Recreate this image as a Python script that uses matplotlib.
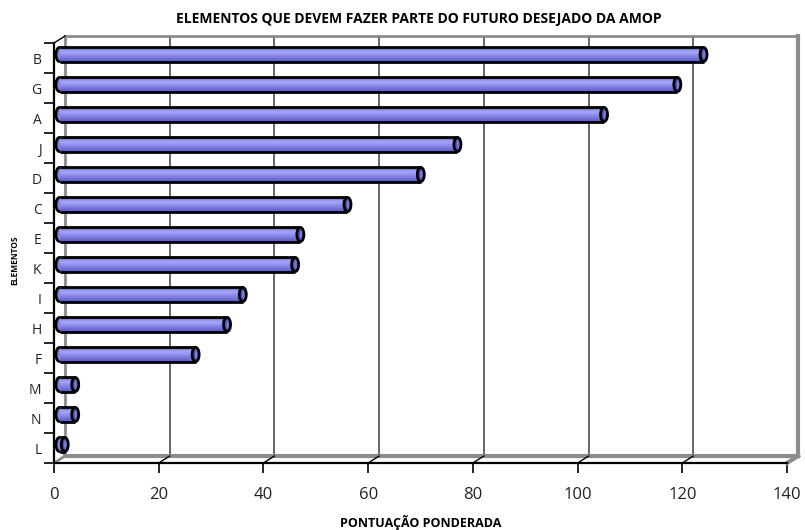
import matplotlib
matplotlib.use("Agg")
import matplotlib.pyplot as plt
from matplotlib.patches import Ellipse
from matplotlib.colors import LinearSegmentedColormap

plt.rcParams['font.family'] = ['Open Sans', 'DejaVu Sans']

categories = ["B", "G", "A", "J", "D", "C", "E", "K", "I", "H", "F", "M", "N", "L"]
scores = [123, 118, 104, 76, 69, 55, 46, 45, 35, 32, 26, 3, 3, 1]
x_ticks = [0, 20, 40, 60, 80, 100, 120, 140]

TITLE = "ELEMENTOS QUE DEVEM FAZER PARTE DO FUTURO DESEJADO DA AMOP"
XLABEL = "PONTUAÇÃO PONDERADA"
YLABEL = "ELEMENTOS"

W, H = 805, 530
PPU = 5.236          # pixels per score unit
ROW = 30             # pixels per category row
DX, DY = 5.5, 3.5    # half depth of the fake 3d box, pixels
n = len(categories)
XMAX = 140

fig = plt.figure(figsize=(W / 100, H / 100), dpi=100)


def add_ax(left, top):
    return fig.add_axes([left / W, 1 - (top + n * ROW) / H, XMAX * PPU / W, n * ROW / H])


def setup(ax):
    ax.set_xlim(0, XMAX)
    ax.set_ylim(n - 0.5, -0.5)


# back wall
ax_b = add_ax(59.5 + DX, 39.5 - DY)
setup(ax_b)
ax_b.set_facecolor("white")
ax_b.set_xticks(x_ticks)
ax_b.set_yticks([])
ax_b.tick_params(axis="x", length=0, labelbottom=False)
ax_b.grid(axis="x", color="#5a5a5a", lw=1.3)
for s in ("top", "left"):
    ax_b.spines[s].set_color("#8c8c8c")
    ax_b.spines[s].set_linewidth(2)
for s in ("right", "bottom"):
    ax_b.spines[s].set_color("#8c8c8c")
    ax_b.spines[s].set_linewidth(3)

# front axis plane
ax_f = add_ax(59.5 - DX, 39.5 + DY)
setup(ax_f)
ax_f.patch.set_alpha(0)
for s in ("top", "right"):
    ax_f.spines[s].set_visible(False)
for s in ("left", "bottom"):
    ax_f.spines[s].set_color("black")
    ax_f.spines[s].set_linewidth(1.6)
ax_f.set_xticks(x_ticks)
ax_f.set_xticklabels([str(t) for t in x_ticks], fontsize=12, color="#222222")
ax_f.tick_params(axis="x", direction="out", length=7, width=1.2, pad=10)
ax_f.set_yticks(range(n))
ax_f.set_yticklabels(categories, fontsize=10, color="#222222")
ax_f.set_yticks([i - 0.5 for i in range(n + 1)], minor=True)
ax_f.tick_params(axis="y", which="major", length=0, pad=9)
ax_f.tick_params(axis="y", which="minor", direction="out", length=7, width=1.2)

# floor / side wall edges, drawn from front axis to back wall
ddx = 2 * DX / PPU
ddy = 2 * DY / ROW
for t in x_ticks:
    ax_f.plot([t, t + ddx], [n - 0.5, n - 0.5 - ddy], color="black", lw=1, clip_on=False)
ax_f.plot([0, ddx], [n - 0.5, n - 0.5 - ddy], color="#8c8c8c", lw=2, clip_on=False)
ax_f.plot([XMAX, XMAX + ddx], [n - 0.5, n - 0.5 - ddy], color="#8c8c8c", lw=3, clip_on=False)
ax_f.plot([0, ddx], [-0.5, -0.5 - ddy], color="black", lw=1, clip_on=False)

ax_f.set_xlabel(XLABEL, fontsize=9, fontweight="bold", va="center")
ax_f.xaxis.set_label_coords(0.5, -(523 - 463) / 420)
ax_f.set_ylabel(YLABEL, fontsize=6, fontweight="bold", va="center")
ax_f.yaxis.set_label_coords((15 - 54) / 733, 1 - (260 - 43) / 420)

# cylinders in the middle plane
ax_m = add_ax(59.5, 39.5)
setup(ax_m)
ax_m.axis("off")

cyl = LinearSegmentedColormap.from_list(
    "cyl", [(0.0, "#5e5ec0"), (0.3, "#a8a8ff"), (0.55, "#8c8cee"), (1.0, "#5a5ab8")])
grad = [[k / 31] for k in range(32)]

bh = 0.47
cap_w = 7 / PPU
for i, v in enumerate(scores):
    ax_m.add_patch(Ellipse((0, i), cap_w, bh, facecolor="#8585e6", edgecolor="black", lw=2,
                           zorder=2, clip_on=False))
    ax_m.imshow(grad, cmap=cyl, aspect="auto", extent=(0, v, i + bh / 2, i - bh / 2),
                interpolation="bilinear", zorder=3)
    ax_m.hlines([i - bh / 2, i + bh / 2], 0, v, color="black", lw=2, zorder=4)
    ax_m.add_patch(Ellipse((v, i), cap_w, bh, facecolor="#5050B0", edgecolor="black", lw=2,
                           zorder=5, clip_on=False))
    ax_m.add_patch(Ellipse((v + cap_w * 0.08, i), cap_w * 0.35, bh * 0.6,
                           facecolor="#7A7AD8", lw=0, zorder=6, clip_on=False))
setup(ax_m)

fig.text(419 / W, 1 - 19 / H, TITLE, ha="center", va="center", fontsize=10, fontweight="bold")

fig.savefig("out.png", dpi=100)
